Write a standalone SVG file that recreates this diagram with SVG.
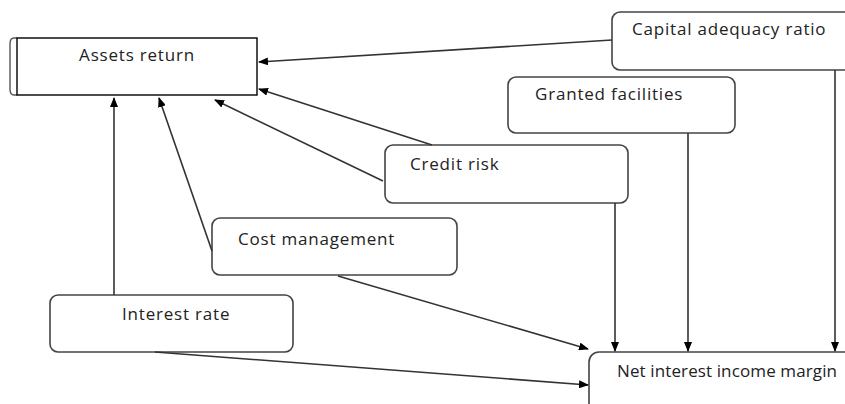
<svg xmlns="http://www.w3.org/2000/svg" width="845" height="404" viewBox="0 0 845 404">
<style>
.box{fill:#fff;stroke:#444;stroke-width:1.6}
.sq{fill:#fff;stroke:#000;stroke-width:1.4}
.lbl{font-family:"Open Sans","Liberation Sans",sans-serif;font-size:17px;letter-spacing:0.8px;fill:#222}
.con{stroke:#333;stroke-width:1.6;fill:none;marker-end:url(#ah)}
</style>
<defs>
<marker id="ah" markerWidth="10" markerHeight="8" refX="9" refY="4" orient="auto" markerUnits="userSpaceOnUse">
<path d="M0,0 L10,4 L0,8 Z" fill="#000"/>
</marker>
</defs>
<rect width="845" height="404" fill="#fff"/>
<g id="assets-return">
<path d="M17,38 L14,38 Q10,38 10,44 L10,89 Q10,95 14,95 L17,95" fill="none" stroke="#555" stroke-width="1.4"/>
<rect class="sq" x="17" y="38" width="240" height="57"/>
<text class="lbl" x="137" y="61" text-anchor="middle">Assets return</text>
</g>
<g id="capital-adequacy-ratio">
<rect class="box" x="612" y="12" width="250" height="58" rx="8"/>
<text class="lbl" x="632" y="35">Capital adequacy ratio</text>
</g>
<g id="granted-facilities">
<rect class="box" x="508" y="77" width="227" height="56" rx="8"/>
<text class="lbl" x="535" y="100">Granted facilities</text>
</g>
<g id="credit-risk">
<rect class="box" x="385" y="145" width="243" height="58" rx="8"/>
<text class="lbl" x="410" y="170">Credit risk</text>
</g>
<g id="cost-management">
<rect class="box" x="212" y="218" width="245" height="57" rx="8"/>
<text class="lbl" x="238" y="245">Cost management</text>
</g>
<g id="interest-rate">
<rect class="box" x="50" y="295" width="243" height="57" rx="8"/>
<text class="lbl" x="122" y="320">Interest rate</text>
</g>
<g id="net-interest-income-margin">
<rect class="box" x="589" y="352" width="280" height="80" rx="10"/>
<text class="lbl" x="617" y="377" style="letter-spacing:0" textLength="220" lengthAdjust="spacing">Net interest income margin</text>
</g>
<g id="connectors">
<line class="con" x1="612" y1="40" x2="259" y2="62"/>
<line class="con" x1="432" y1="145" x2="259" y2="89"/>
<line class="con" x1="383" y1="181" x2="215" y2="100"/>
<line class="con" x1="212" y1="251" x2="159" y2="98"/>
<line class="con" x1="114" y1="295" x2="114" y2="98"/>
<line class="con" x1="338" y1="276" x2="588" y2="349"/>
<line class="con" x1="155" y1="352" x2="588" y2="385"/>
<line class="con" x1="615" y1="203" x2="615" y2="351"/>
<line class="con" x1="688" y1="133" x2="688" y2="351"/>
<line class="con" x1="835" y1="70" x2="835" y2="351"/>
</g>
</svg>
